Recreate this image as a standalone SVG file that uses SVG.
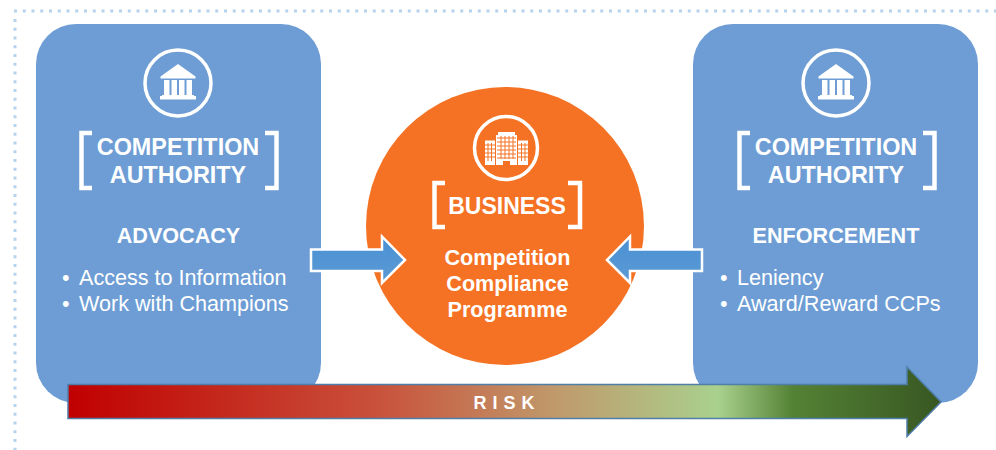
<svg xmlns="http://www.w3.org/2000/svg" xmlns:xlink="http://www.w3.org/1999/xlink" width="996" height="450" viewBox="0 0 996 450">
<style>
text{font-family:"Liberation Sans",Arial,sans-serif;fill:#fff;text-anchor:middle}
.h{font-weight:700;font-size:23.400px}
.s{font-weight:700;font-size:21.600px}
.b{font-size:21.600px;text-anchor:start}
.br{fill:none;stroke:#fff;stroke-width:4.500}
.card{fill:#6d9dd4}
.ring{fill:none;stroke:#fff;stroke-width:3.500}
.dots{fill:none;stroke:#b5d3ec;stroke-width:3;stroke-dasharray:3 5.750}
.blk{fill:#fff}
</style>
<defs>
<linearGradient id="risk" gradientUnits="userSpaceOnUse" x1="68" y1="0" x2="941" y2="0">
<stop offset="0" stop-color="#c00000"/><stop offset=".35" stop-color="#c9503a"/><stop offset=".56" stop-color="#c09a6c"/><stop offset=".745" stop-color="#a9d18e"/><stop offset=".83" stop-color="#548235"/><stop offset="1" stop-color="#385723"/>
</linearGradient>
<linearGradient id="arr" x1="0" y1="0" x2="0" y2="1">
<stop offset="0" stop-color="#4a90d4"/><stop offset="1" stop-color="#5b9bd5"/>
</linearGradient>
<g id="bank" class="blk">
<path d="M0-19L17.500-6.500V-4.500H-17.500V-6.500Z"/>
<rect x="-14" y="-3" width="5.500" height="15.500"/><rect x="-6.500" y="-3" width="5.500" height="15.500"/><rect x="1" y="-3" width="5.500" height="15.500"/><rect x="8.500" y="-3" width="5.500" height="15.500"/>
<rect x="-16" y="12" width="32" height="1.500"/><rect x="-18" y="13" width="36" height="3.500"/>
</g>
</defs>
<path class="dots" d="M14 11H996M15 19V450"/>
<g id="authority-left">
<rect class="card" x="36" y="24" width="285" height="379" rx="40"/>
<circle class="ring" cx="178" cy="83" r="33"/>
<use xlink:href="#bank" href="#bank" x="178" y="83"/>
<path class="br" d="M92 133H81.500V188H92M265 133H276.500V188H265"/>
<text class="h" x="178" y="155">COMPETITION</text>
<text class="h" x="178" y="183">AUTHORITY</text>
<text class="s" x="178.500" y="243">ADVOCACY</text>
<text class="b" y="285"><tspan x="62">•</tspan><tspan x="79">Access to Information</tspan></text>
<text class="b" y="311"><tspan x="62">•</tspan><tspan x="79">Work with Champions</tspan></text>
</g>
<g id="authority-right">
<rect class="card" x="693" y="24" width="285" height="379" rx="40"/>
<circle class="ring" cx="836" cy="83" r="33"/>
<use xlink:href="#bank" href="#bank" x="836" y="83"/>
<path class="br" d="M750 133H739.500V188H750M923 133H934.500V188H923"/>
<text class="h" x="836" y="155">COMPETITION</text>
<text class="h" x="836" y="183">AUTHORITY</text>
<text class="s" x="836" y="243">ENFORCEMENT</text>
<text class="b" y="285"><tspan x="720">•</tspan><tspan x="737">Leniency</tspan></text>
<text class="b" y="311"><tspan x="720">•</tspan><tspan x="737">Award/Reward CCPs</tspan></text>
</g>
<g id="business">
<circle cx="505" cy="226" r="139" fill="#f57224"/>
<circle class="ring" cx="506" cy="148" r="31.500"/>
<path class="blk" d="M485 140.500H495V165H485ZM496 135H498V132H515V135H517V165H510V161H503V165H496ZM518 140.500H528V165H518Z"/>
<path fill="none" stroke="#f57224" stroke-width="1" d="M485 145H495M485 149H495M485 153H495M485 157H495M497 138H516M497 142H516M497 146H516M497 150H516M497 154H516M497 158H516M518 145H528M518 149H528M518 153H528M518 157H528M488 143V161M491.500 143V161M501 136V159M505 136V159M509 136V159M513 136V159M521.500 143V161M525 143V161"/>
<path class="br" d="M445 183H434.500V227H445M568 183H580V227H568"/>
<text class="h" x="507" y="214" style="font-size:23px">BUSINESS</text>
<text class="s" x="507.500" y="265">Competition</text>
<text class="s" x="507.500" y="291">Compliance</text>
<text class="s" x="507.500" y="317">Programme</text>
</g>
<g id="connectors">
<path d="M311 249.500H382V236.500L405 260L382 283V271H311Z" fill="url(#arr)" stroke="#fff" stroke-width="2.500"/>
<path d="M702 249.500H630V236.500L607 260L630 283V271H702Z" fill="url(#arr)" stroke="#fff" stroke-width="2.500"/>
<path id="risk-arrow" d="M68 384.500H907V367L941 402L907 436.500V418.500H68Z" fill="url(#risk)" stroke="#4f7ea8" stroke-width="1.500"/>
</g>
<text x="507" y="409" font-size="18" font-weight="700" letter-spacing="6">RISK</text>
</svg>
